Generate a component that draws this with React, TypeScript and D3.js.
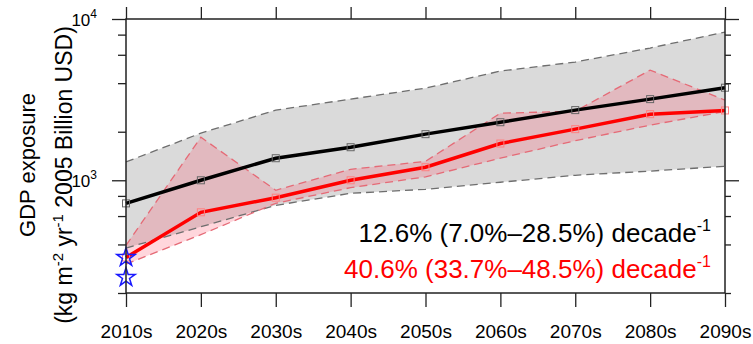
import * as d3 from 'd3';
import { useEffect, useRef } from 'react';

// decades on the x axis
const decades = ['2010s', '2020s', '2030s', '2040s', '2050s', '2060s', '2070s', '2080s', '2090s'];

// black: median of all runs, with grey range
const medianExposure = [719, 1000, 1370, 1603, 1932, 2291, 2723, 3186, 3750];
const medianUpper = [1300, 1959, 2723, 3186, 3727, 4753, 5410, 6607, 8302];
const medianLower = [380, 515, 699, 830, 879, 972, 1074, 1140, 1222];

// red: GDP exposure, with pink range
const gdpExposure = [332, 633, 780, 1000, 1205, 1690, 2075, 2570, 2710];
const gdpUpper = [395, 1849, 867, 1170, 1310, 2606, 2680, 4821, 3140];
const gdpLower = [302, 460, 720, 900, 1050, 1371, 1760, 2197, 2670];

// blue stars at 2010s
const observed = [332, 250];

const yMajorTicks = [1000, 10000];
const yMinorTicks = [200, 400, 600, 800, 2000, 4000, 6000, 8000];

const trendLabels = [
    { text: '12.6% (7.0%\u201328.5%) decade', color: '#000' },
    { text: '40.6% (33.7%\u201348.5%) decade', color: '#ff0000' },
];

const font = "'Liberation Sans', Arial, Helvetica, sans-serif";

const App = () => {
    const ref = useRef<SVGSVGElement | null>(null);

    const width = 753;
    const height = 344;
    const margin = { top: 19, right: 28, bottom: 51, left: 126 };

    useEffect(() => {
        const svg = d3.select(ref.current!);
        svg.selectAll('*').remove();

        const innerW = width - margin.left - margin.right;
        const innerH = height - margin.top - margin.bottom;

        const x = d3.scalePoint<string>().domain(decades).range([0, innerW]);
        const y = d3.scaleLog().domain([200, 10000]).range([innerH, 0]);

        const g = svg.append('g')
            .attr('transform', 'translate(' + margin.left + ',' + margin.top + ')');

        const idx = decades.map((_, i) => i);

        const band = (lo: number[], hi: number[]) => d3.area<number>()
            .x(i => x(decades[i])!)
            .y0(i => y(lo[i]))
            .y1(i => y(hi[i]));

        const line = (vals: number[]) => d3.line<number>()
            .x(i => x(decades[i])!)
            .y(i => y(vals[i]));

        // grey range
        g.append('path').datum(idx)
            .attr('d', band(medianLower, medianUpper))
            .attr('fill', '#dadada');

        // pink range
        g.append('path').datum(idx)
            .attr('d', band(gdpLower, gdpUpper))
            .attr('fill', 'rgba(255, 70, 95, 0.22)');

        // dashed bounds
        ;[medianUpper, medianLower].forEach(vals => {
            g.append('path').datum(idx)
                .attr('d', line(vals))
                .attr('fill', 'none')
                .attr('stroke', '#6e6e6e')
                .attr('stroke-width', 1.3)
                .attr('stroke-dasharray', '8,5');
        });
        ;[gdpUpper, gdpLower].forEach(vals => {
            g.append('path').datum(idx)
                .attr('d', line(vals))
                .attr('fill', 'none')
                .attr('stroke', '#e56a76')
                .attr('stroke-width', 1.3)
                .attr('stroke-dasharray', '8,5');
        });

        // main lines
        g.append('path').datum(idx)
            .attr('d', line(medianExposure))
            .attr('fill', 'none')
            .attr('stroke', '#000')
            .attr('stroke-width', 3.5);

        g.append('path').datum(idx)
            .attr('d', line(gdpExposure))
            .attr('fill', 'none')
            .attr('stroke', '#ff0000')
            .attr('stroke-width', 3.5);

        // square markers
        g.selectAll('.mk-black').data(idx).enter().append('rect')
            .attr('x', i => x(decades[i])! - 3.5)
            .attr('y', i => y(medianExposure[i]) - 3.5)
            .attr('width', 7).attr('height', 7)
            .attr('fill', 'none')
            .attr('stroke', '#666')
            .attr('stroke-width', 1);

        g.selectAll('.mk-red').data(idx).enter().append('rect')
            .attr('x', i => x(decades[i])! - 3.5)
            .attr('y', i => y(gdpExposure[i]) - 3.5)
            .attr('width', 7).attr('height', 7)
            .attr('fill', 'none')
            .attr('stroke', '#ff8080')
            .attr('stroke-width', 1);

        // stars
        const star = d3.symbol().type(d3.symbolStar).size(105);
        g.selectAll('.star').data(observed).enter().append('path')
            .attr('d', star)
            .attr('transform', d => 'translate(' + x(decades[0]) + ',' + y(d) + ')')
            .attr('fill', 'none')
            .attr('stroke', '#1a1aff')
            .attr('stroke-width', 1.5);

        // ticks
        const styleAxis = (sel: any) => {
            sel.select('.domain').remove();
            sel.selectAll('line').attr('stroke', '#222').attr('stroke-width', 1.3);
        };

        g.append('g')
            .attr('transform', 'translate(0,' + innerH + ')')
            .call(d3.axisBottom(x).tickSize(14).tickPadding(18))
            .call(styleAxis)
            .selectAll('text')
            .attr('font-family', font)
            .attr('font-size', 19)
            .attr('fill', '#000');

        g.append('g')
            .call(d3.axisTop(x).tickSize(12).tickFormat(() => ''))
            .call(styleAxis);

        g.append('g')
            .call(d3.axisLeft(y).tickValues(yMinorTicks).tickSize(8).tickFormat(() => ''))
            .call(styleAxis);
        g.append('g')
            .call(d3.axisLeft(y).tickValues(yMajorTicks).tickSize(14).tickFormat(() => ''))
            .call(styleAxis);
        g.append('g')
            .attr('transform', 'translate(' + innerW + ',0)')
            .call(d3.axisRight(y).tickValues(yMinorTicks).tickSize(6).tickFormat(() => ''))
            .call(styleAxis);
        g.append('g')
            .attr('transform', 'translate(' + innerW + ',0)')
            .call(d3.axisRight(y).tickValues(yMajorTicks).tickSize(14).tickFormat(() => ''))
            .call(styleAxis);

        // y tick labels 10^3, 10^4
        yMajorTicks.forEach(v => {
            const t = g.append('text')
                .attr('x', -29)
                .attr('y', y(v) + 7)
                .attr('text-anchor', 'end')
                .attr('font-family', font)
                .attr('font-size', 17)
                .attr('fill', '#000');
            t.append('tspan').text('10');
            t.append('tspan').attr('dy', -8).attr('font-size', 12).text(String(Math.round(Math.log10(v))));
        });

        // frame
        g.append('rect')
            .attr('width', innerW)
            .attr('height', innerH)
            .attr('fill', 'none')
            .attr('stroke', '#222')
            .attr('stroke-width', 1.5);

        // trend text
        trendLabels.forEach((d, i) => {
            const t = svg.append('text')
                .attr('x', 711)
                .attr('y', 242 + i * 36)
                .attr('text-anchor', 'end')
                .attr('font-family', font)
                .attr('font-size', 26)
                .attr('fill', d.color);
            t.append('tspan').text(d.text);
            t.append('tspan').attr('dy', -11).attr('font-size', 16).text('-1');
        });

        // y title
        svg.append('text')
            .attr('transform', 'translate(35,165) rotate(-90)')
            .attr('text-anchor', 'middle')
            .attr('font-family', font)
            .attr('font-size', 22)
            .text('GDP exposure');

        const t2 = svg.append('text')
            .attr('transform', 'translate(72,175) rotate(-90)')
            .attr('text-anchor', 'middle')
            .attr('font-family', font)
            .attr('font-size', 23);
        t2.append('tspan').text('(kg m');
        t2.append('tspan').attr('dy', -9).attr('font-size', 15).text('-2');
        t2.append('tspan').attr('dy', 9).text(' yr');
        t2.append('tspan').attr('dy', -9).attr('font-size', 15).text('-1');
        t2.append('tspan').attr('dy', 9).text(' 2005 Billion USD)');
    }, []);

    return <svg ref={ref} width={width} height={height}
        style={{ position: 'absolute', left: 0, top: 0, background: '#fff' }} />;
};

export default App;
